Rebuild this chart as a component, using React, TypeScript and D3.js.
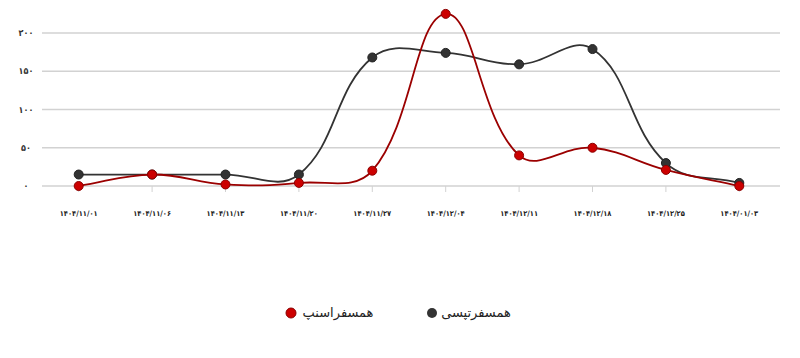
import React from "react";
import * as d3 from "d3";

const categories = [
  "۱۴۰۴/۱۱/۰۱",
  "۱۴۰۴/۱۱/۰۶",
  "۱۴۰۴/۱۱/۱۳",
  "۱۴۰۴/۱۱/۲۰",
  "۱۴۰۴/۱۱/۲۷",
  "۱۴۰۴/۱۲/۰۴",
  "۱۴۰۴/۱۲/۱۱",
  "۱۴۰۴/۱۲/۱۸",
  "۱۴۰۴/۱۲/۲۵",
  "۱۴۰۴/۰۱/۰۳",
];
const tapsiValues = [15, 15, 15, 15, 168, 174, 159, 179, 30, 4];
const snappValues = [0, 15, 2, 4, 20, 225, 40, 50, 21, 0];
const yTicks = [0, 50, 100, 150, 200];
const yTickLabels = ["۰", "۵۰", "۱۰۰", "۱۵۰", "۲۰۰"];
const seriesNames = ["همسفرتپسی", "همسفراسنپ"];

const W = 800;
const H = 358;
const FONT = "'DejaVu Sans', sans-serif";
const FONT_C = "'DejaVu Sans Condensed', 'DejaVu Sans', sans-serif";

// Chart.js-style spline (tension 0.4, distance weighted control points)
function splinePath(pts: [number, number][], t = 0.4): string {
  const p = d3.path();
  const n = pts.length;
  const cps: { px: number; py: number; nx: number; ny: number }[] = [];
  for (let i = 0; i < n; i++) {
    const prev = pts[Math.max(0, i - 1)];
    const cur = pts[i];
    const next = pts[Math.min(n - 1, i + 1)];
    const d01 = Math.hypot(cur[0] - prev[0], cur[1] - prev[1]);
    const d12 = Math.hypot(next[0] - cur[0], next[1] - cur[1]);
    let s01 = d01 / (d01 + d12);
    let s12 = d12 / (d01 + d12);
    if (!isFinite(s01)) s01 = 0;
    if (!isFinite(s12)) s12 = 0;
    const fa = t * s01;
    const fb = t * s12;
    cps.push({
      px: cur[0] - fa * (next[0] - prev[0]),
      py: cur[1] - fa * (next[1] - prev[1]),
      nx: cur[0] + fb * (next[0] - prev[0]),
      ny: cur[1] + fb * (next[1] - prev[1]),
    });
  }
  p.moveTo(pts[0][0], pts[0][1]);
  for (let i = 1; i < n; i++) {
    p.bezierCurveTo(cps[i - 1].nx, cps[i - 1].ny, cps[i].px, cps[i].py, pts[i][0], pts[i][1]);
  }
  return p.toString();
}

export default function App() {
  const x = d3.scaleBand<string>().domain(categories).range([42, 776]);
  const y = d3.scaleLinear().domain([0, 200]).range([186, 33]);
  const cx = (i: number) => (x(categories[i]) as number) + x.bandwidth() / 2;

  const series = [
    { name: seriesNames[0], values: tapsiValues, line: "#333333", fill: "#333333", stroke: "#222222" },
    { name: seriesNames[1], values: snappValues, line: "#9b0000", fill: "#cc0000", stroke: "#8b0000" },
  ];

  return (
    <svg width={W} height={H} style={{ position: "absolute", left: 0, top: 0, background: "#fff" }}>
      {yTicks.map((t, i) => (
        <g key={t}>
          <line x1={42} x2={780} y1={y(t)} y2={y(t)} stroke="#d2d2d2" strokeWidth={1.5} />
          <text x={26} y={y(t) + 3} fontSize={9} textAnchor="middle" fill="#333" fontFamily={FONT_C} fontWeight="bold">
            {yTickLabels[i]}
          </text>
        </g>
      ))}
      {categories.map((c, i) => (
        <g key={c}>
          <line x1={cx(i)} x2={cx(i)} y1={y(0)} y2={y(0) + 6} stroke="#d2d2d2" strokeWidth={1} />
          <text x={cx(i)} y={216} fontSize={7.5} textAnchor="middle" fill="#222" fontFamily={FONT_C} fontWeight="bold">
            {c}
          </text>
        </g>
      ))}
      {series.map((s) => (
        <g key={s.name}>
          <path
            d={splinePath(s.values.map((v, i) => [cx(i), y(v)] as [number, number]))}
            fill="none"
            stroke={s.line}
            strokeWidth={1.8}
          />
          {s.values.map((v, i) => (
            <circle key={i} cx={cx(i)} cy={y(v)} r={4.5} fill={s.fill} stroke={s.stroke} strokeWidth={1} />
          ))}
        </g>
      ))}
      <g fontFamily={FONT} fontSize={13} fill="#222">
        <circle cx={432} cy={313} r={5} fill="#333" />
        <text x={476} y={317} textAnchor="middle">{seriesNames[0]}</text>
        <circle cx={291} cy={313} r={5} fill="#cc0000" stroke="#8b0000" />
        <text x={338} y={317} textAnchor="middle">{seriesNames[1]}</text>
      </g>
    </svg>
  );
}
